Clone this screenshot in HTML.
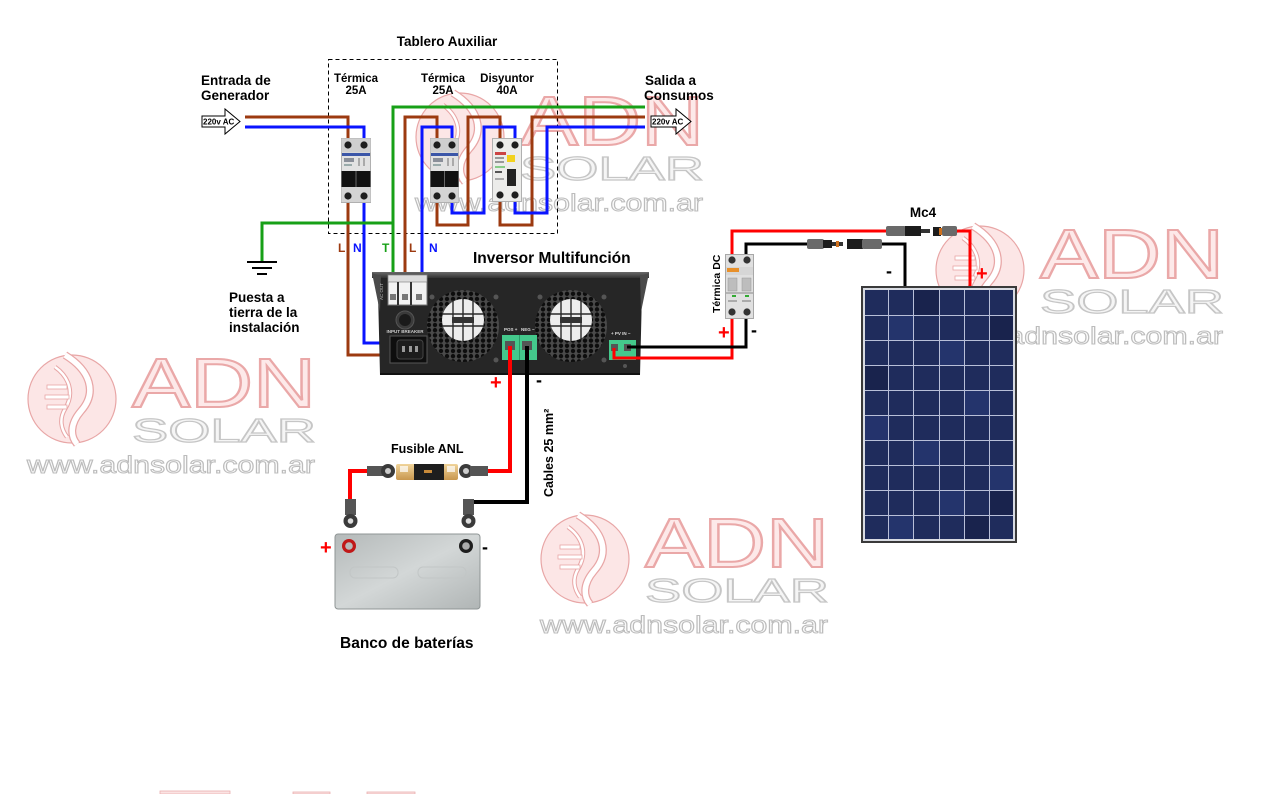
<!DOCTYPE html>
<html><head><meta charset="utf-8">
<style>
html,body{margin:0;padding:0;background:#fff;width:1285px;height:794px;overflow:hidden;}
svg{display:block;overflow:hidden;}
text{font-family:"Liberation Sans",sans-serif;}
</style></head><body>
<svg width="1285" height="794" viewBox="0 0 1285 794" xmlns="http://www.w3.org/2000/svg">
<defs>
 <pattern id="hex" width="6" height="5.2" patternUnits="userSpaceOnUse">
  <rect width="6" height="5.2" fill="#4a4a4a"/>
  <circle cx="3" cy="2.6" r="2.2" fill="#0d0d0d"/>
 </pattern>
 <linearGradient id="batg" x1="0" y1="0" x2="1" y2="1">
  <stop offset="0" stop-color="#b4b9b9"/>
  <stop offset="0.5" stop-color="#d3d7d7"/>
  <stop offset="1" stop-color="#b0b5b5"/>
 </linearGradient>
 <linearGradient id="invtop" x1="0" y1="0" x2="0" y2="1">
  <stop offset="0" stop-color="#6a6a6a"/>
  <stop offset="1" stop-color="#333"/>
 </linearGradient>
 <linearGradient id="gold" x1="0" y1="0" x2="0" y2="1">
  <stop offset="0" stop-color="#f0d49a"/>
  <stop offset="1" stop-color="#c8974f"/>
 </linearGradient>
</defs>

<!-- ===== WATERMARKS ===== -->
<g id="wm-left" transform="translate(25,353)">
 <circle cx="47" cy="46" r="44" fill="#fce6e6" stroke="#e8a6a6" stroke-width="1.2"/>
 <path d="M40 2 C66 18 72 40 56 58 C44 72 46 84 52 91" fill="none" stroke="#e8a6a6" stroke-width="8"/>
 <path d="M40 2 C66 18 72 40 56 58 C44 72 46 84 52 91" fill="none" stroke="#fff" stroke-width="5.5"/>
 <path d="M30 14 C44 24 50 40 40 56 C34 66 36 76 42 84" fill="none" stroke="#e8a6a6" stroke-width="4.5"/>
 <path d="M30 14 C44 24 50 40 40 56 C34 66 36 76 42 84" fill="none" stroke="#fff" stroke-width="2.5"/>
 <rect x="22" y="32" width="20" height="4" fill="#fff" stroke="#e8a6a6" stroke-width="0.8"/>
 <rect x="20" y="42" width="24" height="4" fill="#fff" stroke="#e8a6a6" stroke-width="0.8"/>
 <rect x="22" y="52" width="20" height="4" fill="#fff" stroke="#e8a6a6" stroke-width="0.8"/>
 <text x="107" y="54" font-size="70" textLength="184" lengthAdjust="spacingAndGlyphs" fill="#fde9e9" stroke="#eaa8a8" stroke-width="2">ADN</text>
 <text x="107" y="89" font-size="33" textLength="184" lengthAdjust="spacingAndGlyphs" fill="#f5f5f5" stroke="#c6c6c6" stroke-width="1.2">SOLAR</text>
 <text x="2" y="120" font-size="24" textLength="288" lengthAdjust="spacingAndGlyphs" fill="#fbfbfb" stroke="#bcbcbc" stroke-width="1">www.adnsolar.com.ar</text>
</g>
<g id="wm-center" transform="translate(538,513)">
 <circle cx="47" cy="46" r="44" fill="#fce6e6" stroke="#e8a6a6" stroke-width="1.2"/>
 <path d="M40 2 C66 18 72 40 56 58 C44 72 46 84 52 91" fill="none" stroke="#e8a6a6" stroke-width="8"/>
 <path d="M40 2 C66 18 72 40 56 58 C44 72 46 84 52 91" fill="none" stroke="#fff" stroke-width="5.5"/>
 <path d="M30 14 C44 24 50 40 40 56 C34 66 36 76 42 84" fill="none" stroke="#e8a6a6" stroke-width="4.5"/>
 <path d="M30 14 C44 24 50 40 40 56 C34 66 36 76 42 84" fill="none" stroke="#fff" stroke-width="2.5"/>
 <rect x="22" y="32" width="20" height="4" fill="#fff" stroke="#e8a6a6" stroke-width="0.8"/>
 <rect x="20" y="42" width="24" height="4" fill="#fff" stroke="#e8a6a6" stroke-width="0.8"/>
 <rect x="22" y="52" width="20" height="4" fill="#fff" stroke="#e8a6a6" stroke-width="0.8"/>
 <text x="107" y="54" font-size="70" textLength="184" lengthAdjust="spacingAndGlyphs" fill="#fde9e9" stroke="#eaa8a8" stroke-width="2">ADN</text>
 <text x="107" y="89" font-size="33" textLength="184" lengthAdjust="spacingAndGlyphs" fill="#f5f5f5" stroke="#c6c6c6" stroke-width="1.2">SOLAR</text>
 <text x="2" y="120" font-size="24" textLength="288" lengthAdjust="spacingAndGlyphs" fill="#fbfbfb" stroke="#bcbcbc" stroke-width="1">www.adnsolar.com.ar</text>
</g>
<g id="wm-right" transform="translate(933,224)">
 <circle cx="47" cy="46" r="44" fill="#fce6e6" stroke="#e8a6a6" stroke-width="1.2"/>
 <path d="M40 2 C66 18 72 40 56 58 C44 72 46 84 52 91" fill="none" stroke="#e8a6a6" stroke-width="8"/>
 <path d="M40 2 C66 18 72 40 56 58 C44 72 46 84 52 91" fill="none" stroke="#fff" stroke-width="5.5"/>
 <path d="M30 14 C44 24 50 40 40 56 C34 66 36 76 42 84" fill="none" stroke="#e8a6a6" stroke-width="4.5"/>
 <path d="M30 14 C44 24 50 40 40 56 C34 66 36 76 42 84" fill="none" stroke="#fff" stroke-width="2.5"/>
 <rect x="22" y="32" width="20" height="4" fill="#fff" stroke="#e8a6a6" stroke-width="0.8"/>
 <rect x="20" y="42" width="24" height="4" fill="#fff" stroke="#e8a6a6" stroke-width="0.8"/>
 <rect x="22" y="52" width="20" height="4" fill="#fff" stroke="#e8a6a6" stroke-width="0.8"/>
 <text x="107" y="54" font-size="70" textLength="184" lengthAdjust="spacingAndGlyphs" fill="#fde9e9" stroke="#eaa8a8" stroke-width="2">ADN</text>
 <text x="107" y="89" font-size="33" textLength="184" lengthAdjust="spacingAndGlyphs" fill="#f5f5f5" stroke="#c6c6c6" stroke-width="1.2">SOLAR</text>
 <text x="2" y="120" font-size="24" textLength="288" lengthAdjust="spacingAndGlyphs" fill="#fbfbfb" stroke="#bcbcbc" stroke-width="1">www.adnsolar.com.ar</text>
</g>
<g id="wm-top" transform="translate(413,91)">
 <circle cx="47" cy="46" r="44" fill="#fce6e6" stroke="#e8a6a6" stroke-width="1.2"/>
 <path d="M40 2 C66 18 72 40 56 58 C44 72 46 84 52 91" fill="none" stroke="#e8a6a6" stroke-width="8"/>
 <path d="M40 2 C66 18 72 40 56 58 C44 72 46 84 52 91" fill="none" stroke="#fff" stroke-width="5.5"/>
 <path d="M30 14 C44 24 50 40 40 56 C34 66 36 76 42 84" fill="none" stroke="#e8a6a6" stroke-width="4.5"/>
 <path d="M30 14 C44 24 50 40 40 56 C34 66 36 76 42 84" fill="none" stroke="#fff" stroke-width="2.5"/>
 <text x="107" y="54" font-size="70" textLength="184" lengthAdjust="spacingAndGlyphs" fill="#fde9e9" stroke="#eaa8a8" stroke-width="2">ADN</text>
 <text x="107" y="89" font-size="33" textLength="184" lengthAdjust="spacingAndGlyphs" fill="#f5f5f5" stroke="#c6c6c6" stroke-width="1.2">SOLAR</text>
 <text x="2" y="120" font-size="24" textLength="288" lengthAdjust="spacingAndGlyphs" fill="#fbfbfb" stroke="#bcbcbc" stroke-width="1">www.adnsolar.com.ar</text>
</g>
<!-- bottom partial watermark (clipped tops only) -->
<g fill="#fbe3e3" stroke="#eab0b0" stroke-width="0.8">
 <rect x="160" y="791" width="70" height="3"/>
 <rect x="293" y="792" width="37" height="2"/>
 <rect x="367" y="792" width="48" height="2"/>
</g>

<!-- ===== TABLERO ===== -->
<rect x="328.5" y="59.5" width="229" height="174" fill="none" stroke="#000" stroke-width="1" stroke-dasharray="4,3"/>
<text x="447" y="46" font-size="13.5" font-weight="bold" text-anchor="middle">Tablero Auxiliar</text>

<text x="201" y="85" font-size="13.5" font-weight="bold">Entrada de</text>
<text x="201" y="100" font-size="13.5" font-weight="bold">Generador</text>
<text x="645" y="85" font-size="13.5" font-weight="bold">Salida a</text>
<text x="644" y="100" font-size="13.5" font-weight="bold">Consumos</text>

<text x="356" y="82" font-size="11.5" font-weight="bold" text-anchor="middle">Térmica</text>
<text x="356" y="94" font-size="11.5" font-weight="bold" text-anchor="middle">25A</text>
<text x="443" y="82" font-size="11.5" font-weight="bold" text-anchor="middle">Térmica</text>
<text x="443" y="94" font-size="11.5" font-weight="bold" text-anchor="middle">25A</text>
<text x="507" y="82" font-size="11.5" font-weight="bold" text-anchor="middle">Disyuntor</text>
<text x="507" y="94" font-size="11.5" font-weight="bold" text-anchor="middle">40A</text>

<!-- arrows -->
<polygon points="202,116 225,116 225,109 240,121.5 225,134 225,127 202,127" fill="#fff" stroke="#000" stroke-width="1"/>
<text x="203" y="124.5" font-size="8" font-weight="bold">220v AC</text>
<polygon points="651,116 676,116 676,109 691,121.5 676,134 676,127 651,127" fill="#fff" stroke="#000" stroke-width="1"/>
<text x="652" y="124.5" font-size="8" font-weight="bold">220v AC</text>

<!-- AC wires -->
<g fill="none" stroke-width="3" stroke-linejoin="miter">
 <path d="M245 117 H348 V145" stroke="#9c3a10"/>
 <path d="M245 127 H364 V145" stroke="#0a14ff"/>
 <path d="M348 196 V355 H403" stroke="#9c3a10"/>
 <path d="M364 196 V343 H400" stroke="#0a14ff"/>
 <path d="M645 107 H393 V298" stroke="#17a017"/>
 <path d="M393 223 H262 V261" stroke="#17a017"/>
 <path d="M405 298 V117 H437 V145" stroke="#9c3a10"/>
 <path d="M422 298 V127 H452 V145" stroke="#0a14ff"/>
 <path d="M437 196 V225 H468 V117 H500 V145" stroke="#9c3a10"/>
 <path d="M452 196 V213 H484 V127 H515 V145" stroke="#0a14ff"/>
 <path d="M500 196 V225 H532 V117 H645" stroke="#9c3a10"/>
 <path d="M515 196 V213 H547 V127 H645" stroke="#0a14ff"/>
</g>

<!-- breaker 1 -->
<g transform="translate(341,138)">
 <rect x="0.5" y="0.5" width="29" height="64" fill="#e2e2e2" stroke="#b0b0b0"/>
 <rect x="0.5" y="0.5" width="29" height="14" fill="#cfcfcf"/>
 <circle cx="7" cy="7" r="3.6" fill="#1e1e1e"/><circle cx="23" cy="7" r="3.6" fill="#1e1e1e"/>
 <rect x="1" y="15" width="28" height="3" fill="#3b56a8"/>
 <rect x="3" y="20" width="10" height="4" fill="#8a8f99"/><rect x="3" y="26" width="8" height="2" fill="#9aa"/>
 <rect x="17" y="20" width="2" height="8" fill="#aaa"/><rect x="22" y="20" width="2" height="8" fill="#aaa"/>
 <rect x="0.5" y="33" width="29" height="16" fill="#111"/>
 <line x1="15" y1="33" x2="15" y2="49" stroke="#666"/>
 <rect x="0.5" y="49" width="29" height="15" fill="#d4d4d4"/>
 <circle cx="7" cy="58" r="3.6" fill="#1e1e1e"/><circle cx="23" cy="58" r="3.6" fill="#1e1e1e"/>
</g>
<!-- breaker 2 -->
<g transform="translate(430,138)">
 <rect x="0.5" y="0.5" width="28" height="64" fill="#e2e2e2" stroke="#b0b0b0"/>
 <rect x="0.5" y="0.5" width="28" height="14" fill="#cfcfcf"/>
 <circle cx="7" cy="7" r="3.6" fill="#1e1e1e"/><circle cx="22" cy="7" r="3.6" fill="#1e1e1e"/>
 <rect x="1" y="15" width="27" height="3" fill="#3b56a8"/>
 <rect x="3" y="20" width="10" height="4" fill="#8a8f99"/><rect x="3" y="26" width="8" height="2" fill="#9aa"/>
 <rect x="17" y="20" width="2" height="8" fill="#aaa"/><rect x="22" y="20" width="2" height="8" fill="#aaa"/>
 <rect x="0.5" y="33" width="28" height="16" fill="#111"/>
 <line x1="14.5" y1="33" x2="14.5" y2="49" stroke="#666"/>
 <rect x="0.5" y="49" width="28" height="15" fill="#d4d4d4"/>
 <circle cx="7" cy="58" r="3.6" fill="#1e1e1e"/><circle cx="22" cy="58" r="3.6" fill="#1e1e1e"/>
</g>
<!-- RCD -->
<g transform="translate(492,138)">
 <rect x="0.5" y="0.5" width="29" height="63" fill="#ececea" stroke="#b0b0b0"/>
 <circle cx="8" cy="7" r="3.6" fill="#1e1e1e"/><circle cx="23" cy="7" r="3.6" fill="#1e1e1e"/>
 <rect x="3" y="14" width="11" height="3" fill="#c44"/>
 <rect x="3" y="19" width="9" height="2" fill="#999"/><rect x="3" y="23" width="9" height="2" fill="#999"/>
 <rect x="15" y="17" width="8" height="7" fill="#f2d21e"/>
 <rect x="3" y="28" width="10" height="2" fill="#8c8"/>
 <rect x="3" y="33" width="7" height="2" fill="#555"/>
 <rect x="15" y="31" width="9" height="17" fill="#222"/>
 <rect x="3" y="40" width="9" height="2" fill="#aaa"/>
 <circle cx="8" cy="57" r="3.6" fill="#1e1e1e"/><circle cx="23" cy="57" r="3.6" fill="#1e1e1e"/>
</g>

<!-- ground -->
<g stroke="#000" stroke-width="2">
 <line x1="247" y1="262" x2="277" y2="262"/>
 <line x1="252" y1="268" x2="272" y2="268"/>
 <line x1="257" y1="274" x2="267" y2="274"/>
</g>
<text x="229" y="302" font-size="13.5" font-weight="bold">Puesta a</text>
<text x="229" y="317" font-size="13.5" font-weight="bold">tierra de la</text>
<text x="229" y="332" font-size="13.5" font-weight="bold">instalación</text>

<!-- L N T L N -->
<text x="338" y="252" font-size="12" font-weight="bold" fill="#9c3a10">L</text>
<text x="353" y="252" font-size="12" font-weight="bold" fill="#0a14ff">N</text>
<text x="382" y="252" font-size="12" font-weight="bold" fill="#17a017">T</text>
<text x="409" y="252" font-size="12" font-weight="bold" fill="#9c3a10">L</text>
<text x="429" y="252" font-size="12" font-weight="bold" fill="#0a14ff">N</text>

<text x="473" y="263" font-size="15.5" font-weight="bold">Inversor Multifunción</text>

<!-- ===== INVERTER ===== -->
<polygon points="372,273 649,273 642,292 640,375 380,375 378,292" fill="#262626"/>
<rect x="372" y="272" width="277" height="6" fill="url(#invtop)"/>
<polygon points="372,273 381,276 380,312" fill="#4a4a4a"/>
<polygon points="649,273 640,276 641,312" fill="#4a4a4a"/>
<line x1="380" y1="374" x2="640" y2="374" stroke="#111" stroke-width="2"/>
<!-- AC out terminal block -->
<rect x="388" y="275" width="39" height="30" fill="#f2f2f2" stroke="#777"/>
<rect x="388" y="275" width="39" height="7" fill="#ddd" stroke="#777" stroke-width="0.6"/>
<line x1="398" y1="282" x2="398" y2="305" stroke="#333" stroke-width="2"/>
<line x1="411" y1="282" x2="411" y2="305" stroke="#333" stroke-width="2"/>
<rect x="390" y="294" width="6" height="6" fill="#777"/><rect x="402" y="294" width="6" height="6" fill="#777"/><rect x="416" y="294" width="6" height="6" fill="#777"/>
<text x="383" y="300" font-size="4.5" fill="#bbb" transform="rotate(-90 383 300)">AC OUT</text>
<!-- knob -->
<circle cx="405" cy="320" r="9" fill="#3a3a3a" stroke="#555"/>
<circle cx="405" cy="320" r="6" fill="#1a1a1a"/>
<text x="405" y="333" font-size="4.5" fill="#ccc" text-anchor="middle" font-weight="bold">INPUT BREAKER</text>
<!-- AC socket -->
<rect x="390" y="336" width="37" height="27" fill="#0e0e0e" stroke="#555"/>
<rect x="397" y="340" width="26" height="19" rx="3" fill="#1c1c1c" stroke="#444"/>
<rect x="402" y="346" width="3" height="6" fill="#999"/><rect x="409" y="346" width="3" height="6" fill="#999"/><rect x="415" y="346" width="3" height="6" fill="#999"/>
<!-- fans -->
<circle cx="463" cy="326" r="36" fill="url(#hex)"/>
<circle cx="463" cy="320" r="21" fill="#ededed"/>
<g stroke="#2a2a2a" stroke-width="1.4">
 <line x1="442" y1="314" x2="484" y2="314"/><line x1="442" y1="326" x2="484" y2="326"/>
 <line x1="453" y1="300" x2="453" y2="340"/><line x1="463" y1="299" x2="463" y2="341"/><line x1="473" y1="300" x2="473" y2="340"/>
</g>
<rect x="452" y="317" width="22" height="6" fill="#333"/>
<circle cx="571" cy="326" r="36" fill="url(#hex)"/>
<circle cx="571" cy="320" r="21" fill="#ededed"/>
<g stroke="#2a2a2a" stroke-width="1.4">
 <line x1="550" y1="314" x2="592" y2="314"/><line x1="550" y1="326" x2="592" y2="326"/>
 <line x1="561" y1="300" x2="561" y2="340"/><line x1="571" y1="299" x2="571" y2="341"/><line x1="581" y1="300" x2="581" y2="340"/>
</g>
<rect x="560" y="317" width="22" height="6" fill="#333"/>
<g fill="#555"><circle cx="432" cy="297" r="2.5"/><circle cx="496" cy="297" r="2.5"/><circle cx="540" cy="297" r="2.5"/><circle cx="604" cy="297" r="2.5"/><circle cx="496" cy="360" r="2.5"/><circle cx="604" cy="360" r="2.5"/><circle cx="625" cy="366" r="2"/></g>
<!-- battery terminal -->
<text x="504" y="331" font-size="4.5" fill="#ddd" font-weight="bold">POS +</text>
<text x="521" y="331" font-size="4.5" fill="#ddd" font-weight="bold">NEG −</text>
<rect x="502" y="335" width="35" height="25" fill="#44c98c"/>
<line x1="519.5" y1="335" x2="519.5" y2="360" stroke="#2c9c68"/>
<rect x="505" y="341" width="10" height="9" fill="#555"/><rect x="522" y="341" width="10" height="9" fill="#555"/>
<!-- PV terminal -->
<text x="611" y="335" font-size="4.5" fill="#ddd" font-weight="bold">+ PV IN −</text>
<rect x="609" y="340" width="27" height="20" fill="#44c98c"/>
<rect x="611" y="344" width="7" height="7" fill="#555"/><rect x="624" y="344" width="7" height="7" fill="#555"/>

<!-- ===== DC WIRES ===== -->
<g fill="none" stroke-width="3">
 <path d="M614 348 V358 H732 V231 H887" stroke="#ff0000"/>
 <path d="M955 231 H970 V286" stroke="#ff0000"/>
 <path d="M627 347 H746 V244 H808" stroke="#000"/>
 <path d="M882 244 H905 V286" stroke="#000"/>
</g>
<!-- battery wires -->
<g fill="none" stroke-width="4">
 <path d="M510 346 V471 H486" stroke="#ff0000"/>
 <path d="M370 471 H350 V503" stroke="#ff0000"/>
 <path d="M527 346 V502 H468 V505" stroke="#000"/>
</g>

<!-- MC4 connectors -->
<g>
 <rect x="886" y="226" width="20" height="10" rx="2" fill="#6a6a6a"/>
 <rect x="905" y="226" width="16" height="10" fill="#1c1c1c"/>
 <rect x="921" y="229" width="9" height="4" fill="#333"/>
 <rect x="933" y="227" width="8" height="9" fill="#1c1c1c"/>
 <rect x="939" y="228" width="3" height="7" fill="#d0701c"/>
 <rect x="942" y="226" width="15" height="10" rx="2" fill="#6a6a6a"/>
 <rect x="807" y="239" width="17" height="10" rx="2" fill="#6a6a6a"/>
 <rect x="823" y="240" width="9" height="8" fill="#1c1c1c"/>
 <rect x="832" y="242" width="11" height="4" fill="#333"/>
 <rect x="836" y="241" width="3" height="6" fill="#d0701c"/>
 <rect x="847" y="239" width="16" height="10" fill="#1c1c1c"/>
 <rect x="862" y="239" width="20" height="10" rx="2" fill="#6a6a6a"/>
</g>
<text x="923" y="217" font-size="13.5" font-weight="bold" text-anchor="middle">Mc4</text>

<!-- DC breaker -->
<g transform="translate(725,254)">
 <rect x="0.5" y="0.5" width="28" height="64" fill="#e0e0e0" stroke="#a8a8a8"/>
 <circle cx="7" cy="6" r="3.6" fill="#333"/><circle cx="22" cy="6" r="3.6" fill="#333"/>
 <rect x="1" y="13" width="27" height="8" fill="#d6d6d6"/>
 <rect x="2" y="14" width="12" height="4" fill="#e8902a"/>
 <rect x="3" y="24" width="9" height="13" fill="#bdbdbd" stroke="#999" stroke-width="0.5"/>
 <rect x="17" y="24" width="9" height="13" fill="#bdbdbd" stroke="#999" stroke-width="0.5"/>
 <line x1="1" y1="39" x2="28" y2="39" stroke="#888"/>
 <rect x="7" y="41" width="4" height="2" fill="#3a3"/><rect x="20" y="41" width="4" height="2" fill="#3a3"/>
 <rect x="3" y="46" width="9" height="2" fill="#aaa"/><rect x="17" y="46" width="9" height="2" fill="#aaa"/>
 <circle cx="7" cy="58" r="3.6" fill="#333"/><circle cx="22" cy="58" r="3.6" fill="#333"/>
</g>
<text transform="translate(720,313) rotate(-90)" font-size="10.5" font-weight="bold">Térmica DC</text>

<!-- signs -->
<text x="718" y="339" font-size="20" font-weight="bold" fill="#ff0000">+</text>
<text x="751" y="336" font-size="18" font-weight="bold">-</text>
<text x="886" y="277" font-size="18" font-weight="bold">-</text>
<text x="976" y="280" font-size="20" font-weight="bold" fill="#ff0000">+</text>
<text x="490" y="389" font-size="20" font-weight="bold" fill="#ff0000">+</text>
<text x="536" y="386" font-size="18" font-weight="bold">-</text>
<text x="320" y="554" font-size="20" font-weight="bold" fill="#ff0000">+</text>
<text x="482" y="553" font-size="18" font-weight="bold">-</text>

<!-- ===== SOLAR PANEL ===== -->
<rect x="861" y="286" width="156" height="257" fill="#3a3a3a"/>
<rect x="863" y="288" width="152" height="253" fill="#d8dbe2"/>
<rect x="865" y="290" width="148" height="249" fill="#1f2c5c"/>
<g fill="#263670" opacity="0.8">
 <rect x="889" y="316" width="24" height="24"/><rect x="940" y="341" width="24" height="24"/><rect x="965" y="391" width="24" height="24"/>
 <rect x="865" y="416" width="23" height="24"/><rect x="914" y="441" width="25" height="24"/><rect x="990" y="466" width="23" height="24"/>
 <rect x="940" y="491" width="24" height="24"/><rect x="889" y="516" width="24" height="23"/>
</g>
<g fill="#18224a" opacity="0.8">
 <rect x="914" y="290" width="25" height="25"/><rect x="990" y="316" width="23" height="24"/><rect x="865" y="366" width="23" height="24"/>
 <rect x="990" y="491" width="23" height="24"/><rect x="965" y="516" width="24" height="23"/>
</g>
<g stroke="#b8bfd8" stroke-width="1">
 <line x1="888.5" y1="290" x2="888.5" y2="539"/><line x1="913.5" y1="290" x2="913.5" y2="539"/>
 <line x1="939.5" y1="290" x2="939.5" y2="539"/><line x1="964.5" y1="290" x2="964.5" y2="539"/>
 <line x1="989.5" y1="290" x2="989.5" y2="539"/>
 <line x1="865" y1="315.5" x2="1013" y2="315.5"/><line x1="865" y1="340.5" x2="1013" y2="340.5"/>
 <line x1="865" y1="365.5" x2="1013" y2="365.5"/><line x1="865" y1="390.5" x2="1013" y2="390.5"/>
 <line x1="865" y1="415.5" x2="1013" y2="415.5"/><line x1="865" y1="440.5" x2="1013" y2="440.5"/>
 <line x1="865" y1="465.5" x2="1013" y2="465.5"/><line x1="865" y1="490.5" x2="1013" y2="490.5"/>
 <line x1="865" y1="515.5" x2="1013" y2="515.5"/>
</g>

<!-- ===== FUSE & BATTERY ===== -->
<text x="391" y="453" font-size="12.5" font-weight="bold">Fusible ANL</text>
<!-- left lug -->
<rect x="367" y="466" width="18" height="10" fill="#555"/>
<circle cx="388" cy="471" r="7" fill="#3a3a3a"/><circle cx="388" cy="471" r="3" fill="#ccc"/>
<!-- fuse -->
<rect x="396" y="464" width="62" height="16" rx="2" fill="url(#gold)"/>
<rect x="400" y="466" width="8" height="6" fill="#fff" opacity="0.7"/><rect x="447" y="466" width="8" height="6" fill="#fff" opacity="0.7"/>
<rect x="414" y="464" width="30" height="16" fill="#1e1e1e"/>
<rect x="424" y="470" width="8" height="3" fill="#c88a3a"/>
<!-- right lug -->
<circle cx="466" cy="471" r="7" fill="#3a3a3a"/><circle cx="466" cy="471" r="3" fill="#ccc"/>
<rect x="470" y="466" width="18" height="10" fill="#555"/>
<!-- battery lugs -->
<rect x="345" y="499" width="11" height="16" fill="#555"/>
<circle cx="350.5" cy="521" r="7" fill="#3a3a3a"/><circle cx="350.5" cy="521" r="2.8" fill="#ddd"/>
<rect x="463" y="499" width="11" height="16" fill="#555"/>
<circle cx="468.5" cy="521" r="7" fill="#3a3a3a"/><circle cx="468.5" cy="521" r="2.8" fill="#ddd"/>
<text transform="translate(553,497) rotate(-90)" font-size="12.5" font-weight="bold">Cables 25 mm²</text>
<!-- battery -->
<rect x="335" y="534" width="145" height="75" rx="3" fill="url(#batg)" stroke="#8f9595"/>
<rect x="350" y="567" width="48" height="11" rx="5" fill="none" stroke="#c2c6c6"/>
<rect x="418" y="567" width="48" height="11" rx="5" fill="none" stroke="#c2c6c6"/>
<circle cx="349" cy="546" r="7" fill="#c01818"/><circle cx="349" cy="546" r="3.8" fill="#b8b8b8"/>
<circle cx="466" cy="546" r="7" fill="#1e1e1e"/><circle cx="466" cy="546" r="3.8" fill="#aaa"/>
<text x="340" y="648" font-size="15.5" font-weight="bold">Banco de baterías</text>
</svg>
</body></html>
